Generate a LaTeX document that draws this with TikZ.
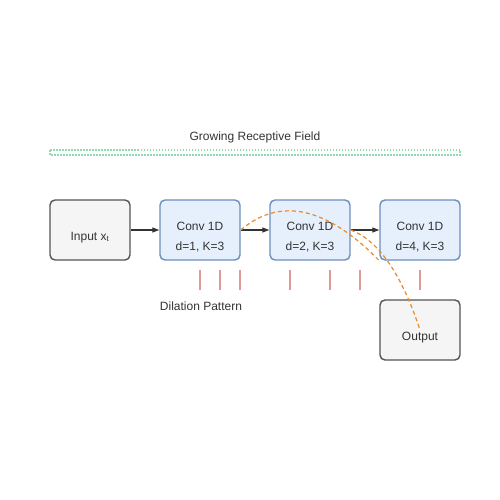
\documentclass[tikz,border=0pt]{standalone}
\usepackage{fontspec}
\setmainfont{Liberation Sans}
\usetikzlibrary{arrows.meta}
\definecolor{txt}{HTML}{333333}
\definecolor{grayfill}{HTML}{F5F5F5}
\definecolor{graydraw}{HTML}{555555}
\definecolor{bluefill}{HTML}{E6F0FC}
\definecolor{bluedraw}{HTML}{6C8EBF}
\definecolor{orng}{HTML}{E98A2E}
\definecolor{grn}{HTML}{8FDAB0}
\definecolor{tick}{HTML}{DE9A94}
\begin{document}
\begin{tikzpicture}[x=1pt,y=-1pt,
  every node/.style={text=txt,font=\fontsize{12}{14}\selectfont},
  lbl/.style={anchor=base,inner sep=0pt},
  graybox/.style={draw=graydraw,fill=grayfill,line width=1.4pt,rounded corners=5pt,minimum width=80pt,minimum height=60pt,inner sep=0pt},
  bluebox/.style={draw=bluedraw,fill=bluefill,line width=1.4pt,rounded corners=5pt,minimum width=80pt,minimum height=60pt,inner sep=0pt,align=center},
  flow/.style={draw=txt,line width=1.2pt,-{Triangle[length=7pt,width=5pt]}},
  rf/.style={draw=orng,line width=1.2pt,dash pattern=on 4pt off 3pt},
  ticks/.style={draw=tick,line width=1.6pt}]
\useasboundingbox (0,0) rectangle (500,500);
\node[lbl] (title) at (255,140) {Growing Receptive Field};
\draw[draw=grn,line width=1.4pt,dash pattern=on 1.5pt off 1.5pt] (50,150) rectangle (460,155);
\node[graybox] (in) at (90,230) {};
\node[lbl] at (90,240) {Input x\textsubscript{t}};
\node[bluebox] (c1) at (200,230) {};
\node[bluebox] (c2) at (310,230) {};
\node[bluebox] (c3) at (420,230) {};
\node[lbl] at (200,230) {Conv 1D};
\node[lbl] at (200,250) {d=1, K=3};
\node[lbl] at (310,230) {Conv 1D};
\node[lbl] at (310,250) {d=2, K=3};
\node[lbl] at (420,230) {Conv 1D};
\node[lbl] at (420,250) {d=4, K=3};
\node[graybox] (out) at (420,330) {};
\node[lbl] at (420,340) {Output};
\draw[flow] (in.east) -- (c1.west);
\draw[flow] (c1.east) -- (c2.west);
\draw[flow] (c2.east) -- (c3.west);
\foreach \x in {200,220,240,290,330,360,420}
  \draw[ticks] (\x,270) -- (\x,290);
\node[lbl] (dp) at (201,310) {Dilation Pattern};
\draw[rf] (c1.east) .. controls (280,196.7) and (326.7,206.7) .. (c3.south west);
\draw[rf] (c2.east) .. controls (378,240) and (401.3,273.3) .. (out.center);
\end{tikzpicture}
\end{document}
